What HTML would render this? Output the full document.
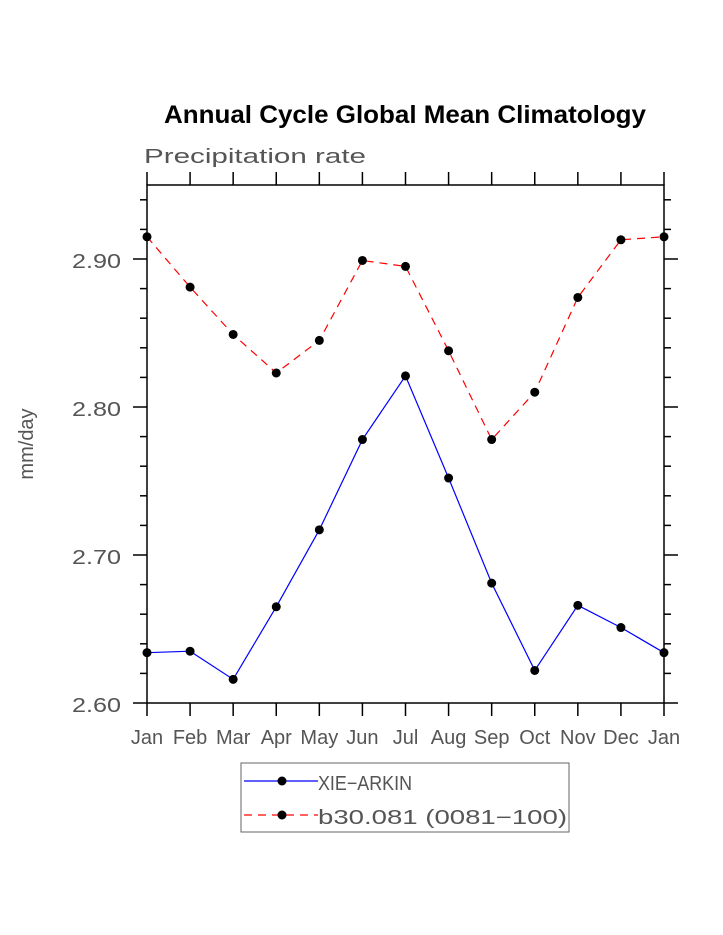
<!DOCTYPE html>
<html><head><meta charset="utf-8"><style>
body{margin:0;background:#fff;}
svg{display:block;font-family:"Liberation Sans",sans-serif;}
.t{fill:#555;font-size:20px;}
</style></head><body>
<svg id="c" width="723" height="935">
<text x="164" y="123" font-size="25" font-weight="bold" fill="#000" textLength="482" lengthAdjust="spacingAndGlyphs">Annual Cycle Global Mean Climatology</text>
<text x="144" y="163" class="t" font-size="23" textLength="222" lengthAdjust="spacingAndGlyphs">Precipitation rate</text>
<text transform="translate(33,444) rotate(-90)" text-anchor="middle" class="t" font-size="17">mm/day</text>
<rect x="147" y="185" width="517" height="518" fill="none" stroke="#000" stroke-width="1.5"/>
<g id="axes"></g>
<g id="series"></g>
<rect x="241" y="763" width="328" height="69" fill="none" stroke="#666" stroke-width="1"/>
<g>
<line x1="244" y1="781" x2="318" y2="781" stroke="#0000ff" stroke-width="1.2"/>
<circle cx="282" cy="781" r="4.5" fill="#000"/>
<text x="318" y="790" class="t" font-size="23" textLength="94" lengthAdjust="spacingAndGlyphs">XIE−ARKIN</text>
</g>
<g>
<line x1="244" y1="815" x2="318" y2="815" stroke="#ff0000" stroke-width="1.2" stroke-dasharray="8,6"/>
<circle cx="282" cy="815" r="4.5" fill="#000"/>
<text x="318" y="824" class="t" font-size="23" textLength="249" lengthAdjust="spacingAndGlyphs">b30.081 (0081−100)</text>
</g>
</svg>
<script>
const months=["Jan","Feb","Mar","Apr","May","Jun","Jul","Aug","Sep","Oct","Nov","Dec","Jan"];
const yTicks=[2.60,2.70,2.80,2.90];
const yTickLabels=["2.60","2.70","2.80","2.90"];
const obsValues=[2.634,2.635,2.616,2.665,2.717,2.778,2.821,2.752,2.681,2.622,2.666,2.651,2.634];
const modelValues=[2.915,2.881,2.849,2.823,2.845,2.899,2.895,2.838,2.778,2.810,2.874,2.913,2.915];
const X0=147,X1=664,Y0=703,Y1=185,YMIN=2.60,YMAX=2.95;
function xs(i){return X0+(X1-X0)*i/(months.length-1);}
function ys(v){return Y0-(v-YMIN)/(YMAX-YMIN)*(Y0-Y1);}
const NS="http://www.w3.org/2000/svg";
const ax=document.getElementById('axes'),se=document.getElementById('series');
function mk(tag,attrs,parent){const e=document.createElementNS(NS,tag);for(const k in attrs)e.setAttribute(k,attrs[k]);parent.appendChild(e);return e;}
months.forEach((m,i)=>{const x=xs(i);
 let t=mk('line',{x1:x,y1:Y0,x2:x,y2:Y0+13,stroke:'#000','stroke-width':1.5},ax);
 
 
 t=mk('line',{x1:x,y1:Y1,x2:x,y2:Y1-13,stroke:'#000','stroke-width':1.5},ax);
 
 
 const l=mk('text',{x:x,y:744,'text-anchor':'middle',class:'t','font-size':18},ax);l.textContent=m;
 
 
});
for(let k=0;k<=17;k++){const v=YMIN+k*0.02;if(v>YMAX+1e-9)break;const y=ys(v);const major=(k%5===0);const len=major?14:7;
 let t=mk('line',{x1:X0-len,y1:y,x2:X0,y2:y,stroke:'#000','stroke-width':1.5},ax);
 
 
 t=mk('line',{x1:X1,y1:y,x2:X1+len,y2:y,stroke:'#000','stroke-width':1.5},ax);
 
 
}
yTicks.forEach((v,i)=>{const l=mk('text',{x:72,y:ys(v)+9,class:'t','font-size':23,textLength:49,lengthAdjust:'spacingAndGlyphs'},ax);l.textContent=yTickLabels[i];
 
 
});
function draw(vals,color,dash,name){
 const pts=vals.map((v,i)=>xs(i)+','+ys(v)).join(' ');
 const pl=mk('polyline',{points:pts,fill:'none',stroke:color,'stroke-width':1.2},se);
 if(dash)pl.setAttribute('stroke-dasharray',dash);
 
 
 vals.forEach((v,i)=>{const c=mk('circle',{cx:xs(i),cy:ys(v),r:4.5,fill:'#000'},se);
  
  });
}
draw(obsValues,'#0000ff',null,'xie-arkin');
draw(modelValues,'#ff0000','8,6','b30-081');
</script>
</body></html>
